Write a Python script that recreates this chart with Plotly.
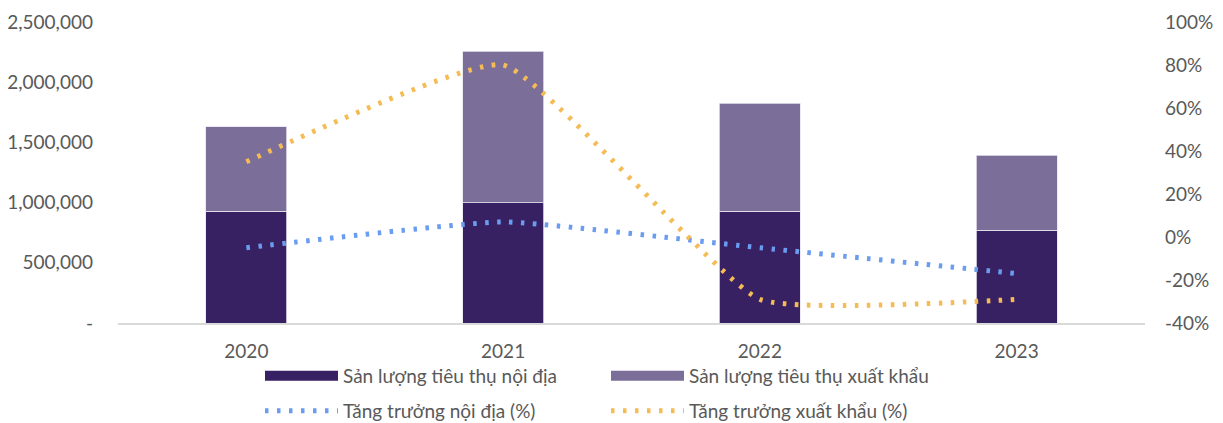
import plotly.graph_objects as go

# Dữ liệu
years = ["2020", "2021", "2022", "2023"]
noi_dia = [930000, 997000, 930000, 772000]
xuat_khau = [698000, 1262000, 897000, 623000]
tang_truong_noi_dia = [-5, 7, -5, -17]
tang_truong_xuat_khau = [35, 80, -29, -29]

left_tickvals = [0, 500000, 1000000, 1500000, 2000000, 2500000]
left_ticktext = ["-", "500,000", "1,000,000", "1,500,000", "2,000,000", "2,500,000"]
right_tickvals = [-40, -20, 0, 20, 40, 60, 80, 100]
right_ticktext = ["-40%", "-20%", "0%", "20%", "40%", "60%", "80%", "100%"]

C_ND = "#372163"
C_XK = "#7b6f9a"
C_BLUE = "#6a9cf0"
C_ORANGE = "#f5bb55"
FONT = "Lato"
FS = 19

# trang có lề body 8px -> khung hình nhỏ hơn cửa sổ 8px
W, H = 1215, 415

fig = go.Figure()

# cột chồng
fig.add_bar(x=years, y=noi_dia, name="Sản lượng tiêu thụ nội địa",
            marker=dict(color=C_ND, line=dict(color="#e6e3ee", width=0.8)),
            showlegend=False)
fig.add_bar(x=years, y=xuat_khau, name="Sản lượng tiêu thụ xuất khẩu",
            marker=dict(color=C_XK, line=dict(color="#e6e3ee", width=0.8)),
            showlegend=False)

# đường tăng trưởng (trục phải)
dot = dict(width=5, dash="3.5px,8.5px", shape="spline", smoothing=0.4)
fig.add_scatter(x=years, y=tang_truong_noi_dia, yaxis="y2", mode="lines",
                name="Tăng trưởng nội địa (%)", legend="legend2",
                line=dict(color=C_BLUE, **dot))
fig.add_scatter(x=years, y=tang_truong_xuat_khau, yaxis="y2", mode="lines",
                name="Tăng trưởng xuất khẩu (%)", legend="legend2",
                line=dict(color=C_ORANGE, **dot))

# mục chú thích cho cột (hình chữ nhật dẹt)
fig.add_scatter(x=[None], y=[None], mode="lines", name="Sản lượng tiêu thụ nội địa",
                line=dict(color=C_ND, width=11), legend="legend")
fig.add_scatter(x=[None], y=[None], mode="lines", name="Sản lượng tiêu thụ xuất khẩu",
                line=dict(color=C_XK, width=11), legend="legend")

legend_style = dict(orientation="h", xanchor="left", yanchor="middle",
                    xref="container", yref="container",
                    font=dict(family=FONT, size=FS, color="#595959"),
                    entrywidth=258, entrywidthmode="pixels", traceorder="normal",
                    bgcolor="rgba(0,0,0,0)", itemwidth=73)

fig.update_layout(
    width=W, height=H,
    margin=dict(l=110, r=78, t=14, b=100, autoexpand=False),
    paper_bgcolor="white", plot_bgcolor="white",
    barmode="stack", bargap=0.685,
    font=dict(family=FONT, size=FS, color="#595959"),
    xaxis=dict(showgrid=False, showline=True, linecolor="#d9d9d9", linewidth=2,
               ticks="", ticklabelstandoff=10),
    yaxis=dict(range=[0, 2500000], tickvals=left_tickvals, ticktext=left_ticktext,
               showgrid=False, zeroline=False, ticks="", ticklabelstandoff=24),
    yaxis2=dict(range=[-40, 100], tickvals=right_tickvals, ticktext=right_ticktext,
                overlaying="y", side="right", showgrid=False, zeroline=False,
                ticks="", ticklabelstandoff=19),
    legend=dict(x=252 / W, y=1 - 368 / H, **legend_style),
    legend2=dict(x=252 / W, y=1 - 403 / H, **legend_style),
)

fig.write_html("out.html")
